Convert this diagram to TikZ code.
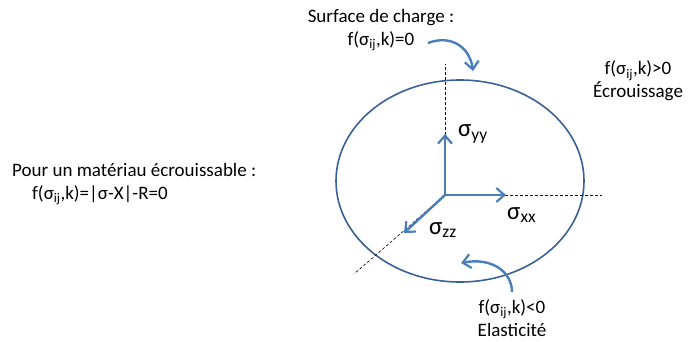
\documentclass[tikz,border=0pt]{standalone}
\usepackage{fontspec}
\setmainfont{Carlito}
\usetikzlibrary{arrows.meta,shapes.geometric}
\definecolor{ellc}{HTML}{3A6196}
\definecolor{arrc}{HTML}{4A7EBB}
\tikzset{
  txt/.style={font=\fontsize{19}{23}\selectfont, align=center, inner sep=0pt},
  axlbl/.style={font=\fontsize{25}{28}\selectfont, inner sep=0pt, anchor=west},
  axdash/.style={densely dashed, line width=0.6pt, black},
  axarrow/.style={arrc, line width=2.4pt, -{Straight Barb[length=8pt,width=14pt,line width=2.2pt]}},
  curvarrow/.style={arrc, line width=2.4pt, -{Straight Barb[length=8pt,width=14pt,line width=2.2pt]}},
}
\begin{document}
\begin{tikzpicture}[x=1pt,y=-1pt]
\useasboundingbox (0,0) rectangle (688,342);
% yield surface
\node[ellipse, draw=ellc, line width=1.6pt, minimum width=248pt, minimum height=202pt, inner sep=0pt] (ell) at (460,181) {};
% axes
\coordinate (O) at (445,195);
\coordinate (ytop) at (445,64);
\coordinate (xend) at (602,195);
\coordinate (zend) at (354,274);
\coordinate (yarr) at (445,134);
\coordinate (xarr) at (506,195);
\coordinate (zarr) at (404,233);
\draw[axdash] (O) -- (ytop);
\draw[axdash] (O) -- (xend);
\draw[axdash] (O) -- (zend);
\draw[axarrow] (O) -- (yarr);
\draw[axarrow] (O) -- (xarr);
\draw[axarrow] (O) -- (zarr);
\node[axlbl] (sy) at (458,134) {σ\textsubscript{yy}};
\node[axlbl] (sx) at (507,215) {σ\textsubscript{xx}};
\node[axlbl] (sz) at (429,230) {σ\textsubscript{zz}};
% texts
\node[txt] (surf) at (381,30) {Surface de charge :\\f(σ\textsubscript{ij},k)=0};
\node[txt] (ecr) at (638,81) {f(σ\textsubscript{ij},k)>0\\Écrouissage};
\node[txt, align=left, anchor=west] (pour) at (12,184) {Pour un matériau écrouissable :\\\hspace*{20pt}f(σ\textsubscript{ij},k)=|σ-X|-R=0};
\node[txt] (ela) at (512,318) {f(σ\textsubscript{ij},k)<0\\Elasticité};
% curved arrows
\coordinate (c1s) at (428,43);
\coordinate (c1e) at (473,71);
\draw[curvarrow] (c1s) .. controls (452,34) and (470,48) .. (c1e);
\coordinate (c2s) at (512,292);
\coordinate (c2e) at (461,263);
\draw[curvarrow] (c2s) .. controls (512,272) and (492,257) .. (c2e);
\end{tikzpicture}
\end{document}
